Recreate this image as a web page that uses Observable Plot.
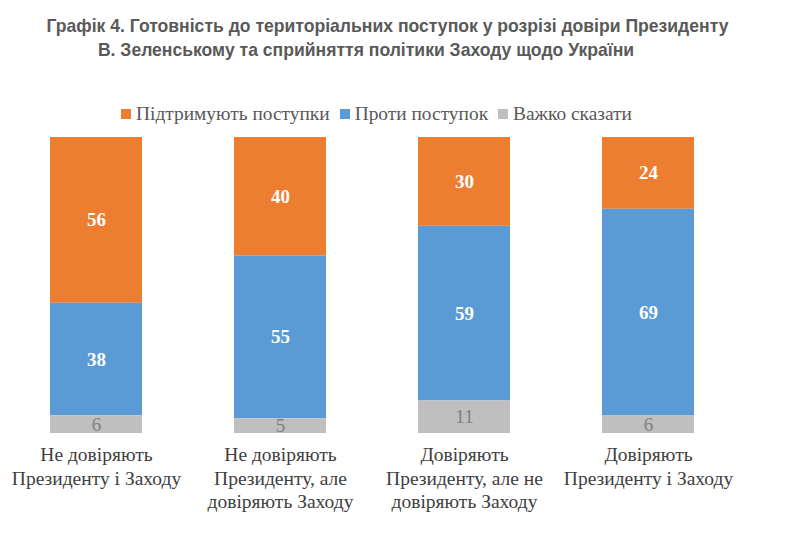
<!DOCTYPE html>
<html>
<head>
<meta charset="utf-8">
<script src="https://cdn.jsdelivr.net/npm/d3@7"></script>
<script src="https://cdn.jsdelivr.net/npm/@observablehq/plot@0.6"></script>
<style>
  body { margin: 0; background: #fff; }
  #wrap { position: relative; width: 789px; height: 534px; overflow: hidden; }
  .t { position: absolute; font-family: "Liberation Sans", Arial, sans-serif; font-weight: bold; font-size: 19px; color: #595959; white-space: nowrap; line-height: 22px; transform: scaleX(0.925); transform-origin: center; }
  #legend { position: absolute; left: 121px; top: 103px; display: flex; align-items: center; font-family: "Liberation Serif", "DejaVu Serif", serif; font-size: 19.4px; color: #595959; line-height: 22px; white-space: nowrap; }
  #legend .sw { display: inline-block; width: 10px; height: 10px; margin-right: 5px; }
  #legend .it { display: flex; align-items: center; margin-right: 10px; }
  #chart { position: absolute; left: 0; top: 128px; }
</style>
</head>
<body>
<div id="wrap">
  <div class="t" id="t1" style="left:0;width:775px;text-align:center;top:15px;">Графік 4. Готовність до територіальних поступок у розрізі довіри Президенту</div>
  <div class="t" id="t2" style="left:0;width:732px;text-align:center;top:39px;">В. Зеленському та сприйняття політики Заходу щодо України</div>
  <div id="legend"></div>
  <div id="chart"></div>
</div>
<script>
const categories = [
  "Не довіряють\nПрезиденту і Заходу",
  "Не довіряють\nПрезиденту, але\nдовіряють Заходу",
  "Довіряють\nПрезиденту, але не\nдовіряють Заходу",
  "Довіряють\nПрезиденту і Заходу"
];
const seriesNames = ["Підтримують поступки", "Проти поступок", "Важко сказати"];
const seriesColors = ["#ED7D31", "#5B9BD5", "#BFBFBF"];
const support = [56, 40, 30, 24];
const against = [38, 55, 59, 69];
const hard = [6, 5, 11, 6];

const valuesBySeries = [support, against, hard];
const data = [];
categories.forEach((c, i) => {
  seriesNames.forEach((s, j) => {
    data.push({category: c, series: s, value: valuesBySeries[j][i]});
  });
});
const stackOrder = ["Важко сказати", "Проти поступок", "Підтримують поступки"];

// legend
const leg = document.getElementById("legend");
seriesNames.forEach((s, j) => {
  const it = document.createElement("span");
  it.className = "it";
  const sw = document.createElement("span");
  sw.className = "sw";
  sw.style.background = seriesColors[j];
  it.appendChild(sw);
  it.appendChild(document.createTextNode(s));
  leg.appendChild(it);
});

const stackOpts = {x: "category", y: "value", z: "series", order: stackOrder, offset: "normalize"};
const serif = "'Liberation Serif', 'DejaVu Serif', serif";

const chart = Plot.plot({
  width: 789,
  height: 406,
  marginTop: 9,
  marginBottom: 101,
  marginLeft: 4,
  marginRight: 49,
  style: {fontFamily: serif, background: "#fff"},
  x: {domain: categories, paddingInner: 0.5, paddingOuter: 0.25, label: null},
  y: {domain: [0, 1], axis: null},
  color: {domain: seriesNames, range: seriesColors},
  marks: [
    Plot.barY(data, Plot.stackY({...stackOpts, fill: "series"})),
    Plot.text(data, Plot.stackY({
      ...stackOpts,
      text: d => d.series === "Важко сказати" ? null : String(d.value),
      fill: "white", fontWeight: "bold", fontSize: 19, fontFamily: serif
    })),
    Plot.text(data, Plot.stackY({
      ...stackOpts,
      text: d => d.series === "Важко сказати" ? String(d.value) : null,
      fill: "#7F7F7F", fontSize: 19, fontFamily: serif
    })),
    Plot.axisX({tickSize: 0, tickPadding: 11, fontSize: 19.5, lineHeight: 1.2, fill: "#404040", label: null, fontFamily: serif})
  ]
});
document.getElementById("chart").appendChild(chart);
</script>
</body>
</html>
